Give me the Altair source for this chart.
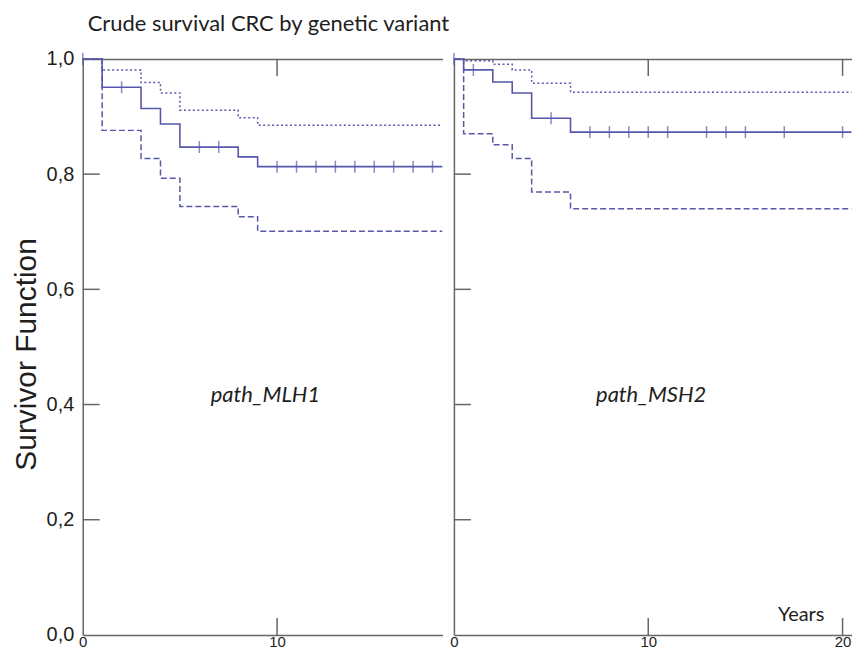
import altair as alt
import pandas as pd

# ---------------- data ----------------
TITLE = "Crude survival CRC by genetic variant"
Y_TITLE = "Survivor Function"
X_TITLE = "Years"
Y_TICKS = [0.0, 0.2, 0.4, 0.6, 0.8, 1.0]

# path_MLH1
mlh1_times = [0, 1, 3, 4, 5, 8, 9]
mlh1_surv = [1.0, 0.951, 0.914, 0.887, 0.847, 0.830, 0.813]
mlh1_upper = [1.0, 0.981, 0.959, 0.941, 0.911, 0.898, 0.885]
mlh1_lower = [1.0, 0.876, 0.827, 0.793, 0.744, 0.726, 0.701]
mlh1_censored = [0, 2, 6, 7, 10, 11, 12, 13, 14, 15, 16, 17, 18]
mlh1_end = 18.5
mlh1_xmax = 18.51
mlh1_bottom_labels = [0, 10]
mlh1_top_ticks = [10]
mlh1_label = ["path_MLH1"]
mlh1_label_t = [9.4]
mlh1_label_s = [0.405]

# path_MSH2
msh2_times = [0, 0.5, 2, 3, 4, 6]
msh2_surv = [1.0, 0.981, 0.960, 0.941, 0.897, 0.873]
msh2_upper = [1.0, 0.997, 0.991, 0.981, 0.958, 0.942]
msh2_lower = [1.0, 0.870, 0.851, 0.827, 0.769, 0.740]
msh2_censored = [0, 1, 5, 7, 8, 9, 10, 11, 13, 14, 15, 17, 20]
msh2_end = 20.46
msh2_xmax = 20.46
msh2_bottom_labels = [0, 10, 20]
msh2_top_ticks = [10, 20]
msh2_label = ["path_MSH2"]
msh2_label_t = [10.15]
msh2_label_s = [0.405]

# ---------------- style ----------------
BLUE = "#5757ab"
GREY = "#666666"
TXT = "#1e1e1e"
TICK = 17
NUM_FONT = "Liberation Sans"
CAL_FONT = "Lato"
PLOT_H = 578


def km_value(times, vals, t):
    v = vals[0]
    for ti, vi in zip(times, vals):
        if ti <= t:
            v = vi
    return v


def line_df(times, vals, end):
    return pd.DataFrame({"t": list(times) + [end], "S": list(vals) + [vals[-1]]})


def panel(times, surv, upper, lower, censored, end, xmax, width,
          bottom_labels, top_ticks, label, label_t, label_s, first):
    xs = alt.Scale(domain=[0, xmax], nice=False, zero=False)
    ys = alt.Scale(domain=[0, 1], nice=False, zero=True)

    bottom_kw = dict(orient="bottom", domain=True, domainColor=GREY, domainWidth=1.5,
                     ticks=False, labels=True, values=bottom_labels,
                     labelFont=NUM_FONT, labelFontSize=15, labelColor=TXT,
                     labelPadding=0, labelFlush=False, grid=False)
    if first:
        ax_bottom = alt.Axis(title=None, **bottom_kw)
        ax_left = alt.Axis(orient="left", domain=True, domainColor=GREY, domainWidth=1.5,
                           ticks=False, labels=True, values=Y_TICKS,
                           labelFont=NUM_FONT, labelFontSize=20, labelColor=TXT,
                           labelPadding=9, labelFlush=False,
                           labelExpr="replace(format(datum.value, '.1f'), '.', ',')",
                           grid=False,
                           title=Y_TITLE, titleAngle=270, titleX=-71.5, titleY=296,
                           titleAlign="center", titleBaseline="top",
                           titleFont=NUM_FONT, titleFontSize=30, titleFontWeight="normal",
                           titleColor=TXT)
    else:
        ax_bottom = alt.Axis(title=X_TITLE, titleX=348, titleY=-14, titleAlign="center",
                             titleBaseline="alphabetic", titleFont=CAL_FONT, titleFontSize=20,
                             titleFontWeight="normal", titleColor=TXT, **bottom_kw)
        ax_left = alt.Axis(orient="left", domain=True, domainColor=GREY, domainWidth=1.5,
                           ticks=False, labels=False, grid=False, title=None)
    ax_top = alt.Axis(orient="top", domain=True, domainColor=GREY, domainWidth=1.5,
                      ticks=False, labels=False, grid=False, title=None)

    lower_layer = alt.Chart(line_df(times, lower, end)).mark_line(
        interpolate="step-after", color=BLUE, strokeWidth=1.5, strokeDash=[6, 3]
    ).encode(x=alt.X("t:Q", scale=xs, axis=ax_bottom),
             y=alt.Y("S:Q", scale=ys, axis=ax_left))

    upper_layer = alt.Chart(line_df(times, upper, end)).mark_line(
        interpolate="step-after", color=BLUE, strokeWidth=1.5, strokeDash=[2, 2.5]
    ).encode(x=alt.X("t:Q", scale=xs, axis=ax_top),
             y=alt.Y("S:Q", scale=ys, axis=None))

    surv_layer = alt.Chart(line_df(times, surv, end)).mark_line(
        interpolate="step-after", color=BLUE, strokeWidth=1.6
    ).encode(x=alt.X("t:Q", scale=xs, axis=None),
             y=alt.Y("S:Q", scale=ys, axis=None))

    cens_df = pd.DataFrame({"t": censored,
                            "S": [km_value(times, surv, c) for c in censored]})
    cens_layer = alt.Chart(cens_df).mark_tick(
        orient="vertical", color=BLUE, size=12, thickness=1.5
    ).encode(x=alt.X("t:Q", scale=xs, axis=None),
             y=alt.Y("S:Q", scale=ys, axis=None))

    # inward pointing tick marks on the frame
    ytick_layer = alt.Chart(pd.DataFrame({"v": Y_TICKS[1:-1]})).mark_rule(
        color=GREY, strokeWidth=1.5
    ).encode(y=alt.Y("v:Q", scale=ys, axis=None), x=alt.value(0), x2=alt.value(TICK))

    inner_bottom = [v for v in bottom_labels if v > 0]
    btick_layer = alt.Chart(pd.DataFrame({"v": inner_bottom})).mark_rule(
        color=GREY, strokeWidth=1.5
    ).encode(x=alt.X("v:Q", scale=xs, axis=None),
             y=alt.value(PLOT_H - TICK), y2=alt.value(PLOT_H))

    ttick_layer = alt.Chart(pd.DataFrame({"v": top_ticks})).mark_rule(
        color=GREY, strokeWidth=1.5
    ).encode(x=alt.X("v:Q", scale=xs, axis=None),
             y=alt.value(0), y2=alt.value(TICK))

    lab_df = pd.DataFrame({"t": label_t, "S": label_s, "label": label})
    lab_layer = alt.Chart(lab_df).mark_text(
        font=CAL_FONT, fontStyle="italic", fontSize=22, color=TXT,
        align="center", baseline="alphabetic"
    ).encode(x=alt.X("t:Q", scale=xs, axis=None),
             y=alt.Y("S:Q", scale=ys, axis=None),
             text="label:N")

    return alt.layer(
        lower_layer, upper_layer, surv_layer, cens_layer,
        ytick_layer, btick_layer, ttick_layer, lab_layer
    ).resolve_axis(x="independent", y="independent").properties(width=width, height=PLOT_H)


p1 = panel(mlh1_times, mlh1_surv, mlh1_upper, mlh1_lower, mlh1_censored, mlh1_end,
           mlh1_xmax, 361, mlh1_bottom_labels, mlh1_top_ticks,
           mlh1_label, mlh1_label_t, mlh1_label_s, True)
p2 = panel(msh2_times, msh2_surv, msh2_upper, msh2_lower, msh2_censored, msh2_end,
           msh2_xmax, 399, msh2_bottom_labels, msh2_top_ticks,
           msh2_label, msh2_label_t, msh2_label_s, False)

chart = alt.hconcat(p1, p2, spacing=2.5).properties(
    title=alt.TitleParams(TITLE, anchor="start", frame="bounds", dx=76.5, offset=-4,
                          baseline="alphabetic", font=CAL_FONT, fontSize=22,
                          fontWeight="normal", color=TXT),
    padding={"left": 3, "top": 4, "right": 0, "bottom": 0},
).configure_view(stroke=None).configure_axis(grid=False)

chart.save("out.html", embed_options={"renderer": "svg", "actions": False})
